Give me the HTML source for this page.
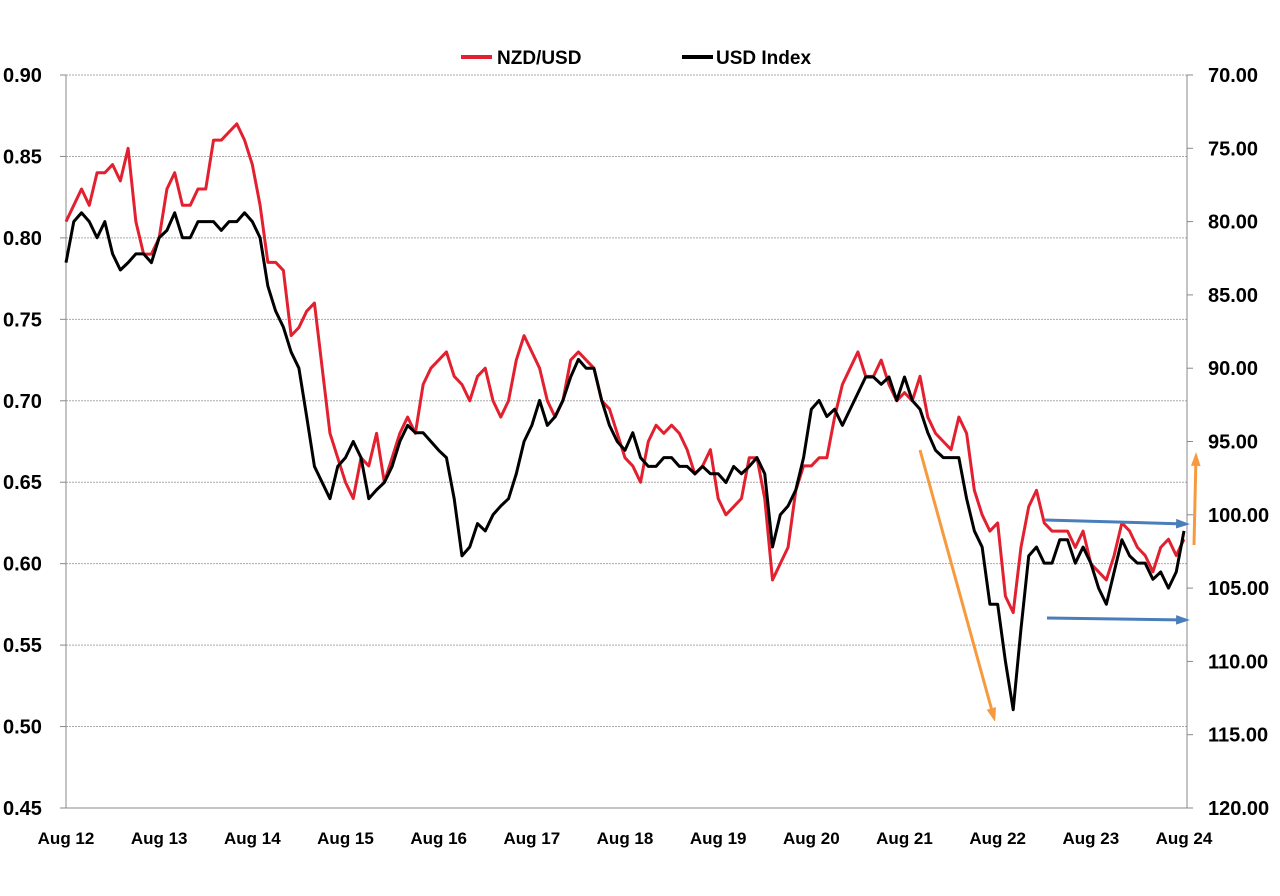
<!DOCTYPE html>
<html><head><meta charset="utf-8"><style>
body{margin:0;background:#fff;}
svg text{font-family:"Liberation Sans",sans-serif;font-weight:bold;fill:#000;}
</style></head><body>
<svg id="chart" width="1280" height="891" xmlns="http://www.w3.org/2000/svg">
<g id="grid"></g>
<g id="axes"></g>
<g id="series"></g>
<g id="legend">
 <line x1="461" y1="57" x2="492" y2="57" stroke="#e3202f" stroke-width="4"/>
 <text x="497" y="64" font-size="19">NZD/USD</text>
 <line x1="682" y1="57" x2="713" y2="57" stroke="#000" stroke-width="4"/>
 <text x="716" y="64" font-size="19">USD Index</text>
</g>
<g id="annot"></g>
</svg>
<script>
const xLabels=["Aug 12","Aug 13","Aug 14","Aug 15","Aug 16","Aug 17","Aug 18","Aug 19","Aug 20","Aug 21","Aug 22","Aug 23","Aug 24"];
const leftTicks=[0.90,0.85,0.80,0.75,0.70,0.65,0.60,0.55,0.50,0.45];
const rightTicks=[70,75,80,85,90,95,100,105,110,115,120];
const nzd=[0.81,0.82,0.83,0.82,0.84,0.84,0.845,0.835,0.855,0.81,0.79,0.79,
0.80,0.83,0.84,0.82,0.82,0.83,0.83,0.86,0.86,0.865,0.87,0.86,
0.845,0.82,0.785,0.785,0.78,0.74,0.745,0.755,0.76,0.72,0.68,0.665,
0.65,0.64,0.665,0.66,0.68,0.65,0.665,0.68,0.69,0.68,0.71,0.72,
0.725,0.73,0.715,0.71,0.70,0.715,0.72,0.70,0.69,0.70,0.725,0.74,
0.73,0.72,0.70,0.69,0.70,0.725,0.73,0.725,0.72,0.70,0.695,0.68,
0.665,0.66,0.65,0.675,0.685,0.68,0.685,0.68,0.67,0.655,0.66,0.67,
0.64,0.63,0.635,0.64,0.665,0.665,0.64,0.59,0.60,0.61,0.645,0.66,
0.66,0.665,0.665,0.69,0.71,0.72,0.73,0.715,0.715,0.725,0.71,0.70,
0.705,0.70,0.715,0.69,0.68,0.675,0.67,0.69,0.68,0.645,0.63,0.62,
0.625,0.58,0.57,0.61,0.635,0.645,0.625,0.62,0.62,0.62,0.61,0.62,
0.60,0.595,0.59,0.605,0.625,0.62,0.61,0.605,0.595,0.61,0.615,0.605,
0.615];
const usd=[82.8,80.0,79.4,80.0,81.1,80.0,82.2,83.3,82.8,82.2,82.2,82.8,
81.1,80.6,79.4,81.1,81.1,80.0,80.0,80.0,80.6,80.0,80.0,79.4,
80.0,81.1,84.4,86.1,87.2,88.9,90.0,93.3,96.7,97.8,98.9,96.7,
96.1,95.0,96.1,98.9,98.3,97.8,96.7,95.0,93.9,94.4,94.4,95.0,
95.6,96.1,98.9,102.8,102.2,100.6,101.1,100.0,99.4,98.9,97.2,95.0,
93.9,92.2,93.9,93.3,92.2,90.6,89.4,90.0,90.0,92.2,93.9,95.0,
95.6,94.4,96.1,96.7,96.7,96.1,96.1,96.7,96.7,97.2,96.7,97.2,
97.2,97.8,96.7,97.2,96.7,96.1,97.2,102.2,100.0,99.4,98.3,96.1,
92.8,92.2,93.3,92.8,93.9,92.8,91.7,90.6,90.6,91.1,90.6,92.2,
90.6,92.2,92.8,94.4,95.6,96.1,96.1,96.1,98.9,101.1,102.2,106.1,
106.1,110.0,113.3,107.8,102.8,102.2,103.3,103.3,101.7,101.7,103.3,102.2,
103.3,105.0,106.1,103.9,101.7,102.8,103.3,103.3,104.4,103.9,105.0,103.9,
101.1];
const NS="http://www.w3.org/2000/svg";
const L=66,R=1187,T=75,B=808;
const yL=v=>T+(0.90-v)/0.45*(B-T);
const yR=v=>T+(v-70)/50*(B-T);
const xM=i=>L+i*(1184-L)/144;
const xY=i=>L+i*(1184-L)/12;
function mk(tag,attrs,parent){const e=document.createElementNS(NS,tag);for(const k in attrs)e.setAttribute(k,attrs[k]);document.getElementById(parent).appendChild(e);return e;}
leftTicks.forEach(t=>{
 const g=mk('line',{x1:L,x2:R,y1:yL(t),y2:yL(t),stroke:'#aaa','stroke-width':1,'stroke-dasharray':'2,1'},'grid');
 
 
 const tk=mk('line',{x1:L-6,x2:L,y1:yL(t),y2:yL(t),stroke:'#888'},'axes');
 
 
 const tx=mk('text',{x:3,y:yL(t)+7,'font-size':20},'axes');
 tx.textContent=t.toFixed(2);
 
 
});
rightTicks.forEach(t=>{
 const tk=mk('line',{x1:R,x2:R+6,y1:yR(t),y2:yR(t),stroke:'#888'},'axes');
 
 
 const tx=mk('text',{x:1208,y:yR(t)+7,'font-size':20},'axes');
 tx.textContent=t.toFixed(2);
 
 
});
xLabels.forEach((s,i)=>{
 const tx=mk('text',{x:xY(i),y:844,'font-size':17,'text-anchor':'middle'},'axes');
 tx.textContent=s;
 
 
});
[[L,T,L,B],[R,T,R,B],[L,B,R,B]].forEach(a=>{
 const l=mk('line',{x1:a[0],y1:a[1],x2:a[2],y2:a[3],stroke:'#888','stroke-width':1},'axes');
 
 
});
const pr=mk('polyline',{points:nzd.map((v,i)=>xM(i)+','+yL(v)).join(' '),fill:'none',stroke:'#e3202f','stroke-width':3,'stroke-linejoin':'round'},'series');


const pb=mk('polyline',{points:usd.map((v,i)=>xM(i)+','+yR(v)).join(' '),fill:'none',stroke:'#000','stroke-width':3,'stroke-linejoin':'round'},'series');


function arrow(x1,y1,x2,y2,c,name){
 const l=mk('line',{x1,y1,x2,y2,stroke:c,'stroke-width':3},'annot');
 
 
 const a=Math.atan2(y2-y1,x2-x1),s=11;
 const p=[[x2+Math.cos(a)*4,y2+Math.sin(a)*4],[x2-s*Math.cos(a-0.45),y2-s*Math.sin(a-0.45)],[x2-s*Math.cos(a+0.45),y2-s*Math.sin(a+0.45)]];
 const h=mk('polygon',{points:p.map(q=>q.join(',')).join(' '),fill:c},'annot');
 
 
}
arrow(920,450,994,718,'#f79a3e','orange-down-arrow');
arrow(1194,545,1196,456,'#f79a3e','orange-up-arrow');
arrow(1045,520,1186,524,'#4a7ebb','blue-upper-arrow');
arrow(1047,618,1186,620,'#4a7ebb','blue-lower-arrow');
</script>
</body></html>
